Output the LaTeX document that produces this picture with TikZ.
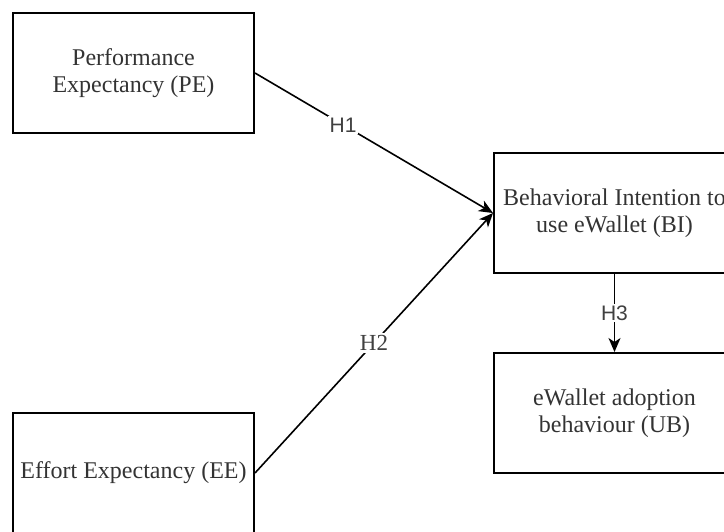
\documentclass[tikz,border=0pt]{standalone}
\usepackage{fontspec}
\setmainfont{Liberation Serif}
\newfontfamily\hsans{Liberation Sans}
\usetikzlibrary{arrows.meta}

\begin{document}
\begin{tikzpicture}[x=0.5pt,y=-0.5pt,
  box/.style={draw,line width=1pt,minimum width=120.5pt,minimum height=60pt,inner sep=0pt,align=center,text=black!80,font=\fontsize{12}{13.5}\selectfont},
  hyp/.style={-{Stealth[length=7pt,width=6pt,inset=2pt]},line width=0.8pt},
  hlab/.style={fill=white,inner sep=1pt,text=black!75}]

\useasboundingbox (0,0) rectangle (724,531);
\clip (0,0) rectangle (724,531);

\node[box] (pe) at (133.5,73) {Performance\\Expectancy (PE)};
\node[box] (ee) at (133.5,473) {Effort Expectancy (EE)};
\node[box] (bi) at (614.5,213) {Behavioral Intention to\\use eWallet (BI)};
\node[box] (ub) at (614.5,413) {eWallet adoption\\behaviour (UB)};

\draw[hyp] (pe.east) -- (bi.west) node[hlab,pos=0.37,font=\hsans\fontsize{10.5}{12}\selectfont] {H1};
\draw[hyp] (ee.east) -- (bi.west) node[hlab,pos=0.5,font=\fontsize{11.5}{12}\selectfont] {H2};
\draw[hyp] (bi.south) -- (ub.north) node[hlab,pos=0.5,font=\hsans\fontsize{10.5}{12}\selectfont] {H3};

\end{tikzpicture}
\end{document}
